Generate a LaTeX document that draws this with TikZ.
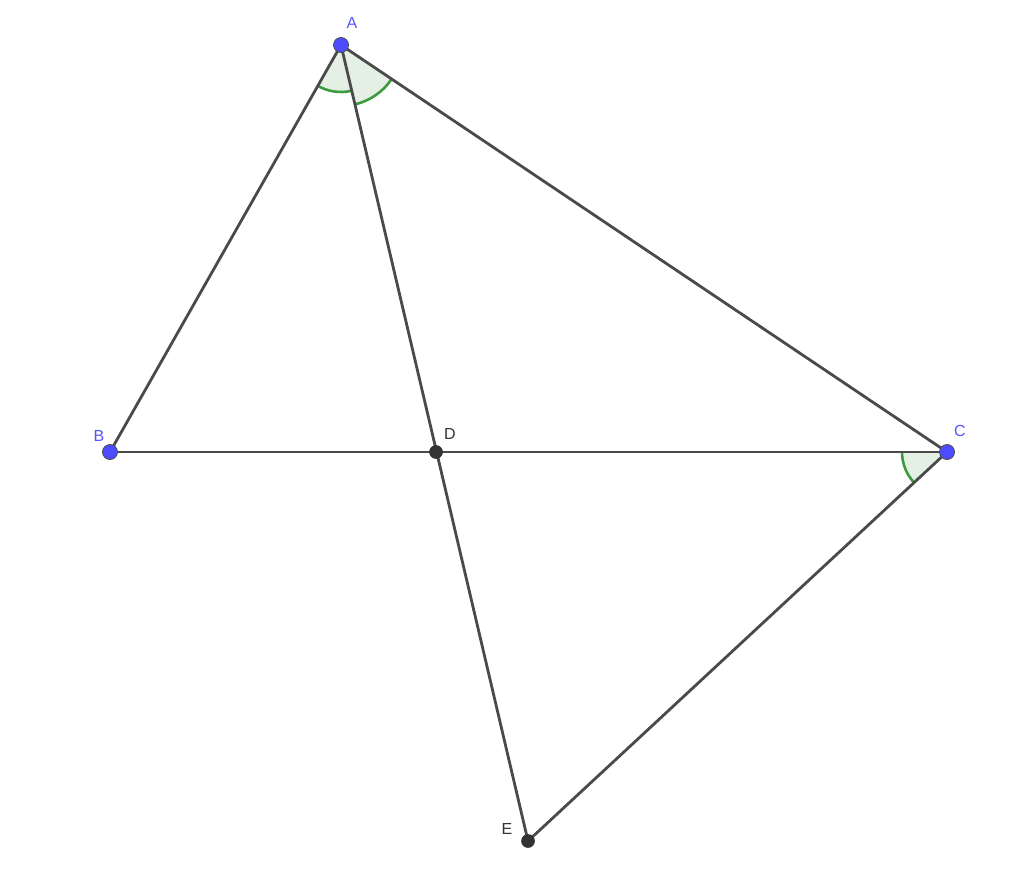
\documentclass[tikz,border=0pt]{standalone}
\usepackage{fontspec}
\setmainfont{Liberation Sans}
\usetikzlibrary{angles}
\definecolor{segc}{HTML}{4A4A4A}
\definecolor{ptblue}{HTML}{4D4DFF}
\definecolor{ptdark}{HTML}{333333}
\definecolor{lblblue}{HTML}{5555FF}
\definecolor{anggreen}{HTML}{3E9A3E}
\definecolor{angfill}{HTML}{E4F0E4}
\begin{document}
\begin{tikzpicture}[x=1pt,y=-1pt,
  seg/.style={draw=segc,line width=2.8pt},
  freept/.style={circle,fill=ptblue,draw=black!70,line width=0.8pt,inner sep=0pt,minimum size=15pt},
  deppt/.style={circle,fill=ptdark,draw=black!80,line width=0.6pt,inner sep=0pt,minimum size=13pt},
  lblb/.style={text=lblblue,font=\fontsize{16}{18}\selectfont,inner sep=0pt},
  lbld/.style={text=ptdark,font=\fontsize{16}{18}\selectfont,inner sep=0pt},
  angmark/.style={draw=anggreen,line width=2.6pt,fill=angfill}]
\useasboundingbox (0,0) rectangle (1024,872);
\fill[white] (0,0) rectangle (1024,872);
\coordinate (A) at (341,45);
\coordinate (B) at (110,452);
\coordinate (C) at (947,452);
\coordinate (D) at (436,452);
\coordinate (E) at (528,841);
% angle markers
\pic[angmark,angle radius=47pt] {angle = B--A--D};
\pic[angmark,angle radius=61pt] {angle = D--A--C};
\pic[angmark,angle radius=45pt] {angle = B--C--E};
% segments
\draw[seg] (A) -- (B);
\draw[seg] (A) -- (C);
\draw[seg] (B) -- (C);
\draw[seg] (A) -- (E);
\draw[seg] (C) -- (E);
% points
\node[freept] (pA) at (A) {};
\node[freept] (pB) at (B) {};
\node[freept] (pC) at (C) {};
\node[deppt] (pD) at (D) {};
\node[deppt] (pE) at (E) {};
% labels
\node[lblb] (lA) at (352,23) {A};
\node[lblb] (lB) at (99,436) {B};
\node[lblb] (lC) at (960,431) {C};
\node[lbld] (lD) at (450,434) {D};
\node[lbld] (lE) at (507,829) {E};
\end{tikzpicture}
\end{document}
